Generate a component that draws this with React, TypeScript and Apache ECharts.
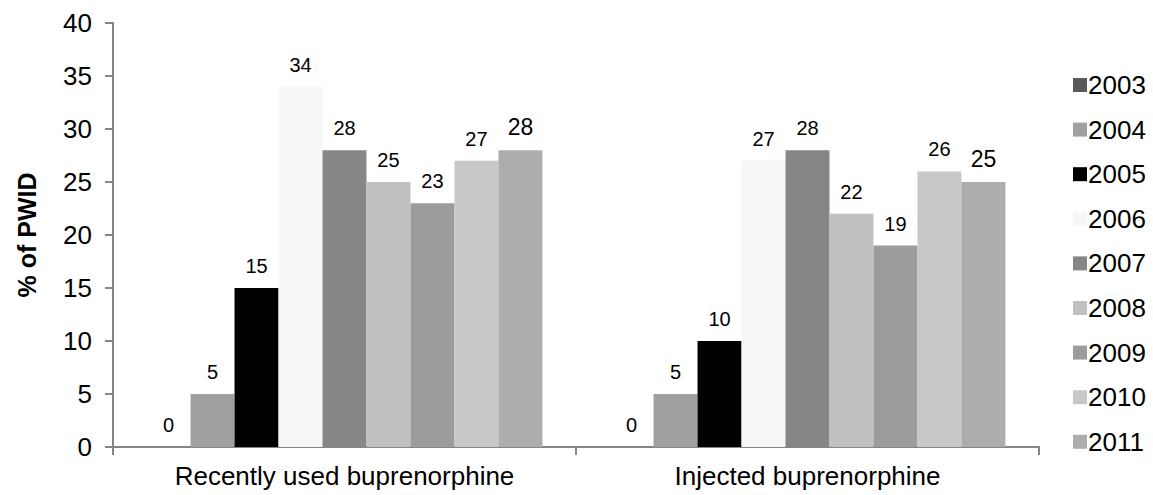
import React, { useEffect, useRef } from "react";
import * as echarts from "echarts";

const categories = ["Recently used buprenorphine", "Injected buprenorphine"];
const years = ["2003", "2004", "2005", "2006", "2007", "2008", "2009", "2010", "2011"];
const values2003 = [0, 0];
const values2004 = [5, 5];
const values2005 = [15, 10];
const values2006 = [34, 27];
const values2007 = [28, 28];
const values2008 = [25, 22];
const values2009 = [23, 19];
const values2010 = [27, 26];
const values2011 = [28, 25];
const yearValues = [
  values2003, values2004, values2005, values2006, values2007,
  values2008, values2009, values2010, values2011,
];
const yearColors = [
  "#595959", "#a0a0a0", "#000000", "#f7f7f7", "#868686",
  "#c0c0c0", "#9c9c9c", "#c8c8c8", "#adadad",
];

const FONT = "'Liberation Sans', Arial, Helvetica, sans-serif";

export default function App() {
  const ref = useRef<HTMLDivElement>(null);

  useEffect(() => {
    if (!ref.current) return;
    const chart = echarts.init(ref.current, undefined, { renderer: "svg" });
    const series = years.map((y, i) => ({
      name: y,
      type: "bar",
      data: yearValues[i],
      barGap: "0%",
      barCategoryGap: "14.5%",
      itemStyle: { color: yearColors[i] },
      label: {
        show: true,
        position: "top",
        distance: 12,
        color: "#000",
        fontFamily: FONT,
        fontSize: i === 8 ? 23 : 20,
      },
    }));
    chart.setOption({
      animation: false,
      backgroundColor: "#ffffff",
      textStyle: { fontFamily: FONT },
      grid: { left: 113, right: 114, top: 23, bottom: 48, containLabel: false },
      legend: {
        orient: "vertical",
        left: 1068,
        top: 67,
        itemWidth: 14,
        itemHeight: 14,
        itemGap: 18.6,
        icon: "rect",
        textStyle: { fontFamily: FONT, fontSize: 26, color: "#000", padding: [0, 0, 0, -4] },
        data: years,
      },
      xAxis: {
        type: "category",
        data: categories,
        axisLine: { lineStyle: { color: "#868686", width: 2 } },
        axisTick: { show: true, length: 8, lineStyle: { color: "#868686", width: 2 } },
        axisLabel: { color: "#000", fontSize: 26, fontFamily: FONT, margin: 16 },
      },
      yAxis: {
        type: "value",
        min: 0,
        max: 40,
        interval: 5,
        name: "% of PWID",
        nameLocation: "middle",
        nameRotate: 90,
        nameGap: 74,
        nameTextStyle: { fontFamily: FONT, fontSize: 25, fontWeight: "bold", color: "#000" },
        splitLine: { show: false },
        axisLine: { show: true, lineStyle: { color: "#868686", width: 2 } },
        axisTick: { show: true, length: 8, lineStyle: { color: "#868686", width: 2 } },
        axisLabel: { color: "#000", fontSize: 26, fontFamily: FONT, margin: 21 },
      },
      series,
    });
    return () => chart.dispose();
  }, []);

  return (
    <div
      ref={ref}
      style={{ position: "fixed", left: 0, top: 0, width: 1153, height: 495, background: "#fff" }}
    />
  );
}
